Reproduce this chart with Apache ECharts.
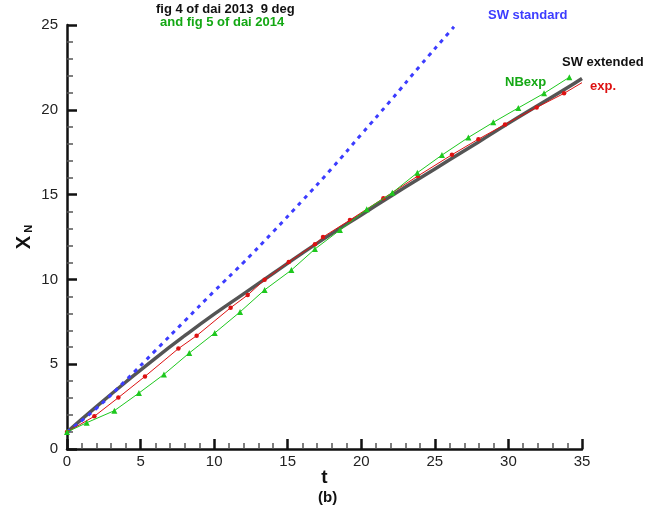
<!DOCTYPE html>
<html>
<head>
<meta charset="utf-8">
<script src="https://cdn.jsdelivr.net/npm/echarts@6/dist/echarts.min.js"></script>
<style>
  html, body { margin: 0; padding: 0; background: #fff; }
  #chart { width: 659px; height: 523px; }
</style>
</head>
<body>
<div id="chart"></div>
<script>
// Front position X_N versus time t

// SW standard (dashed blue)
const swStdT = [0, 2, 4, 6, 8, 10, 12, 14, 16, 18, 20, 22, 24, 26, 26.3];
const swStdX = [1.0, 2.4, 4.05, 5.8, 7.55, 9.3, 11.0, 12.8, 14.65, 16.55, 18.55, 20.55, 22.6, 24.6, 24.9];

// SW extended (thick grey)
const swExtT = [0, 2, 4, 6, 8, 10, 12, 14, 16, 18, 20, 22, 24, 26, 28, 30, 32, 34, 35];
const swExtX = [1.0, 2.5, 3.95, 5.35, 6.68, 7.95, 9.15, 10.35, 11.55, 12.7, 13.8, 14.9, 15.98, 17.05, 18.12, 19.2, 20.25, 21.3, 21.85];

// exp. (red, circles)
const expT = [0, 1.86, 3.49, 5.30, 7.57, 8.81, 11.12, 12.28, 13.43, 15.07, 16.85, 17.40, 19.23, 21.50, 23.85, 26.16, 27.96, 29.77, 31.92, 33.78, 35];
const expX = [1.0, 1.93, 3.03, 4.28, 5.92, 6.68, 8.33, 9.08, 9.98, 11.03, 12.07, 12.50, 13.50, 14.78, 16.10, 17.35, 18.27, 19.14, 20.14, 20.97, 21.6];

// NBexp (green, triangles)
const nbT = [0, 1.34, 3.22, 4.89, 6.59, 8.31, 10.04, 11.76, 13.43, 15.25, 16.85, 18.55, 20.37, 22.11, 23.81, 25.48, 27.28, 28.97, 30.67, 32.42, 34.14];
const nbX = [1.0, 1.55, 2.26, 3.30, 4.40, 5.66, 6.84, 8.08, 9.38, 10.55, 11.79, 12.91, 14.13, 15.11, 16.29, 17.33, 18.37, 19.26, 20.11, 20.97, 21.92];

const xTicks = [0, 5, 10, 15, 20, 25, 30, 35];
const yTicks = [0, 5, 10, 15, 20, 25];

const pairs = (a, b) => a.map((v, i) => [v, b[i]]);
const FONT = '"Liberation Sans", Arial, Helvetica, sans-serif';

const chart = echarts.init(document.getElementById('chart'), null, { renderer: 'canvas' });

const axisCommon = {
  type: 'value',
  splitLine: { show: false },
  axisLine: { show: true, lineStyle: { color: '#111', width: 2.5 } },
  axisTick: { show: true, inside: true, length: 10, lineStyle: { color: '#111', width: 2.5 } },
  minorTick: { show: true, splitNumber: 5, length: 6, lineStyle: { color: '#555', width: 1.5 } },
  axisLabel: { color: '#222', fontSize: 15, fontFamily: FONT }
};

// red series: last point carries no marker
const expData = pairs(expT, expX).map((p, i, arr) =>
  i === arr.length - 1 ? { value: p, symbol: 'none' } : p);

chart.setOption({
  animation: false,
  backgroundColor: '#fff',
  grid: { left: 67, right: 77, top: 25, bottom: 74 },
  xAxis: Object.assign({}, axisCommon, {
    min: xTicks[0], max: xTicks[xTicks.length - 1], interval: 5,
    axisLabel: Object.assign({}, axisCommon.axisLabel, { margin: 5 }),
    name: 't', nameLocation: 'middle', nameGap: 19, nameMoveOverlap: false,
    nameTextStyle: { fontSize: 19, fontWeight: 'bold', color: '#111', fontFamily: FONT }
  }),
  yAxis: Object.assign({}, axisCommon, {
    min: yTicks[0], max: yTicks[yTicks.length - 1], interval: 5,
    axisLabel: Object.assign({}, axisCommon.axisLabel, { margin: 9 }),
    name: '{x|X}{n| N}', nameLocation: 'middle', nameGap: 33, nameRotate: 90, nameMoveOverlap: false,
    nameTextStyle: {
      rich: {
        x: { fontSize: 20, fontWeight: 'bold', color: '#111', fontFamily: FONT },
        n: { fontSize: 11, fontWeight: 'bold', color: '#111', fontFamily: FONT, verticalAlign: 'bottom', padding: [7, 0, 0, 0] }
      }
    }
  }),
  series: [
    {
      name: 'SW extended', type: 'line', data: pairs(swExtT, swExtX),
      showSymbol: false, smooth: true, z: 2,
      lineStyle: { color: '#555555', width: 3.5 }
    },
    {
      name: 'SW standard', type: 'line', data: pairs(swStdT, swStdX),
      showSymbol: false, smooth: true, z: 3,
      lineStyle: { color: '#3c3cff', width: 3, type: [4, 5] }
    },
    {
      name: 'exp.', type: 'line', data: expData,
      symbol: 'circle', symbolSize: 4.5, z: 4,
      itemStyle: { color: '#dd1111' },
      lineStyle: { color: '#dd1111', width: 1 }
    },
    {
      name: 'NBexp', type: 'line', data: pairs(nbT, nbX),
      symbol: 'triangle', symbolSize: 6, z: 5,
      itemStyle: { color: '#1ec81e' },
      lineStyle: { color: '#1ec81e', width: 1 }
    }
  ],
  graphic: [
    { type: 'text', left: 156, top: 3, style: { text: 'fig 4 of dai 2013  9 deg', font: 'bold 13px ' + FONT, fill: '#111' } },
    { type: 'text', left: 160, top: 16, style: { text: 'and fig 5 of dai 2014', font: 'bold 13px ' + FONT, fill: '#14a814' } },
    { type: 'text', left: 488, top: 9, style: { text: 'SW standard', font: 'bold 13px ' + FONT, fill: '#3c3cff' } },
    { type: 'text', left: 562, top: 56, style: { text: 'SW extended', font: 'bold 13px ' + FONT, fill: '#111' } },
    { type: 'text', left: 505, top: 76, style: { text: 'NBexp', font: 'bold 13px ' + FONT, fill: '#14a814' } },
    { type: 'text', left: 590, top: 80, style: { text: 'exp.', font: 'bold 13px ' + FONT, fill: '#dd1111' } },
    { type: 'text', left: 318, top: 490, style: { text: '(b)', font: 'bold 15px ' + FONT, fill: '#111' } }
  ]
});
</script>
</body>
</html>
